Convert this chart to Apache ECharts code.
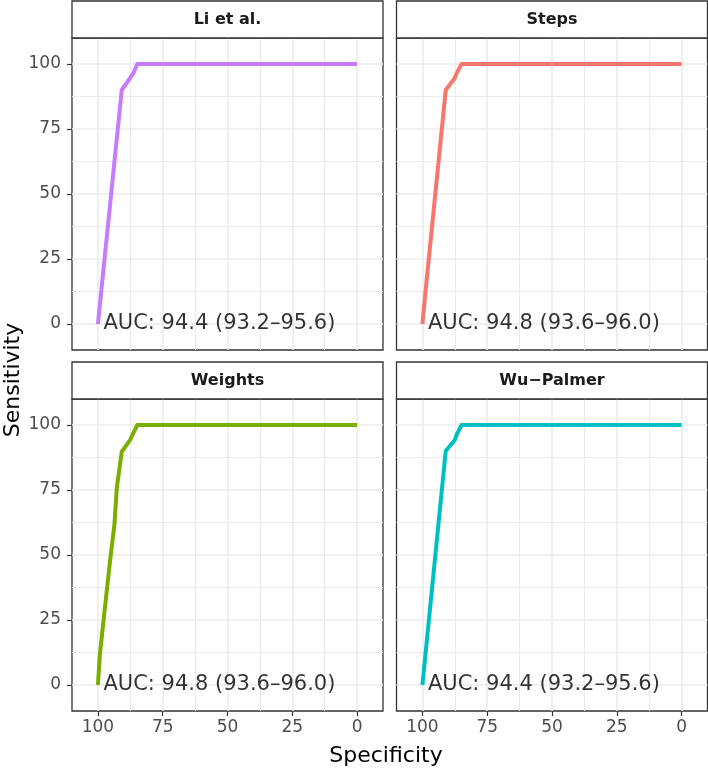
<!DOCTYPE html>
<html><head><meta charset="utf-8">
<script src="https://cdn.jsdelivr.net/npm/echarts@6/dist/echarts.min.js"></script>
<style>html,body{margin:0;padding:0;background:#fff}#c{width:708px;height:769px}</style>
</head><body><div id="c"></div>
<script>
// ---- data ----
const panels = ['Li et al.', 'Steps', 'Weights', 'Wu\u2212Palmer'];
const colors = ['#C77CFF', '#F8766D', '#7CAE00', '#00BFC4'];
const aucLabels = ['AUC: 94.4 (93.2\u201395.6)', 'AUC: 94.8 (93.6\u201396.0)', 'AUC: 94.8 (93.6\u201396.0)', 'AUC: 94.4 (93.2\u201395.6)'];
const specLi = [100, 90.8, 87.6, 86.3, 84.8, 0];
const sensLi = [0, 90, 94.6, 96.5, 100, 100];
const specSteps = [100, 98.8, 91.0, 87.5, 86.8, 84.9, 0];
const sensSteps = [0, 12.5, 90, 94.6, 96.5, 100, 100];
const specWeights = [100, 99.2, 95.4, 93.6, 92.7, 90.8, 87.6, 86.7, 84.8, 0];
const sensWeights = [0, 12.2, 47, 62, 76, 89.7, 94.2, 96.2, 100, 100];
const specWu = [100, 91.0, 87.5, 86.8, 84.9, 0];
const sensWu = [0, 90, 94.2, 96.2, 100, 100];
const majorTicks = [0, 25, 50, 75, 100];
const minorTicks = [12.5, 37.5, 62.5, 87.5];
const xTitle = 'Specificity';
const yTitle = 'Sensitivity';

const specs = [specLi, specSteps, specWeights, specWu];
const senss = [sensLi, sensSteps, sensWeights, sensWu];

// ---- layout ----
const FONT = '"DejaVu Sans", sans-serif';
const boxes = [
  {left: 72, top: 38, width: 311, height: 312},
  {left: 396.5, top: 38, width: 311, height: 312},
  {left: 72, top: 399, width: 311, height: 312},
  {left: 396.5, top: 399, width: 311, height: 312}
];
const STRIP_H = 37;

const grid = [], xAxis = [], yAxis = [], series = [], graphic = [];
boxes.forEach((b, i) => {
  grid.push({left: b.left, top: b.top, width: b.width, height: b.height, show: true,
    borderColor: '#333333', borderWidth: 1.3, backgroundColor: '#ffffff', outerBoundsMode: 'none', containLabel: false});
  const bottomRow = i >= 2, leftCol = i % 2 === 0;
  const common = {gridIndex: i, type: 'value', min: -10, max: 110};
  xAxis.push(Object.assign({}, common, {
    inverse: true, position: 'bottom',
    axisLine: {show: false, onZero: false},
    axisTick: {show: bottomRow, customValues: majorTicks, length: 5, lineStyle: {color: '#333333', width: 1.2}},
    axisLabel: {show: bottomRow, customValues: majorTicks, color: '#4d4d4d', fontSize: 17, fontFamily: FONT, margin: 8},
    splitLine: {show: true, lineStyle: {color: '#ebebeb', width: 1.6}}
  }));
  xAxis.push(Object.assign({}, common, {
    inverse: true, position: 'top',
    axisLine: {show: false, onZero: false},
    axisTick: {show: false, customValues: minorTicks},
    axisLabel: {show: false, customValues: minorTicks},
    splitLine: {show: true, lineStyle: {color: '#ebebeb', width: 1.0}}
  }));
  yAxis.push(Object.assign({}, common, {
    position: 'left',
    axisLine: {show: false, onZero: false},
    axisTick: {show: leftCol, customValues: majorTicks, length: 5, lineStyle: {color: '#333333', width: 1.2}},
    axisLabel: {show: leftCol, customValues: majorTicks, color: '#4d4d4d', fontSize: 17, fontFamily: FONT, margin: 11},
    splitLine: {show: true, lineStyle: {color: '#ebebeb', width: 1.6}}
  }));
  yAxis.push(Object.assign({}, common, {
    position: 'right',
    axisLine: {show: false, onZero: false},
    axisTick: {show: false, customValues: minorTicks},
    axisLabel: {show: false, customValues: minorTicks},
    splitLine: {show: true, lineStyle: {color: '#ebebeb', width: 1.0}}
  }));
  const data = specs[i].map((s, k) => [s, senss[i][k]]);
  series.push({type: 'line', name: panels[i], xAxisIndex: 2 * i, yAxisIndex: 2 * i, data: data,
    showSymbol: false, symbol: 'none', z: 3,
    lineStyle: {color: colors[i], width: 4, cap: 'butt', join: 'round'}});
  series.push({type: 'scatter', xAxisIndex: 2 * i, yAxisIndex: 2 * i, data: [[specs[i][0], senss[i][0]]],
    symbolSize: 1, itemStyle: {color: 'rgba(0,0,0,0)'}, silent: true, z: 4,
    label: {show: true, position: 'right', distance: 5, formatter: aucLabels[i], color: '#000000',
      fontSize: 21, fontFamily: FONT}});
  graphic.push({type: 'rect', shape: {x: b.left, y: b.top - STRIP_H, width: b.width, height: STRIP_H},
    style: {fill: '#ffffff', stroke: '#333333', lineWidth: 1.3}, z: 10});
  graphic.push({type: 'text', x: b.left + b.width / 2, y: b.top - STRIP_H / 2,
    style: {text: panels[i], fill: '#1a1a1a', font: 'bold 16px ' + FONT, textAlign: 'center', textVerticalAlign: 'middle'}, z: 11});
});
graphic.push({type: 'text', x: 386, y: 756,
  style: {text: xTitle, fill: '#000000', font: '22px ' + FONT, textAlign: 'center', textVerticalAlign: 'middle'}});
graphic.push({type: 'text', x: 13, y: 380, rotation: Math.PI / 2,
  style: {text: yTitle, fill: '#000000', font: '22px ' + FONT, textAlign: 'center', textVerticalAlign: 'middle'}});

const chart = echarts.init(document.getElementById('c'), null, {renderer: 'canvas'});
chart.setOption({animation: false, backgroundColor: '#ffffff', grid, xAxis, yAxis, series, graphic});
</script></body></html>
